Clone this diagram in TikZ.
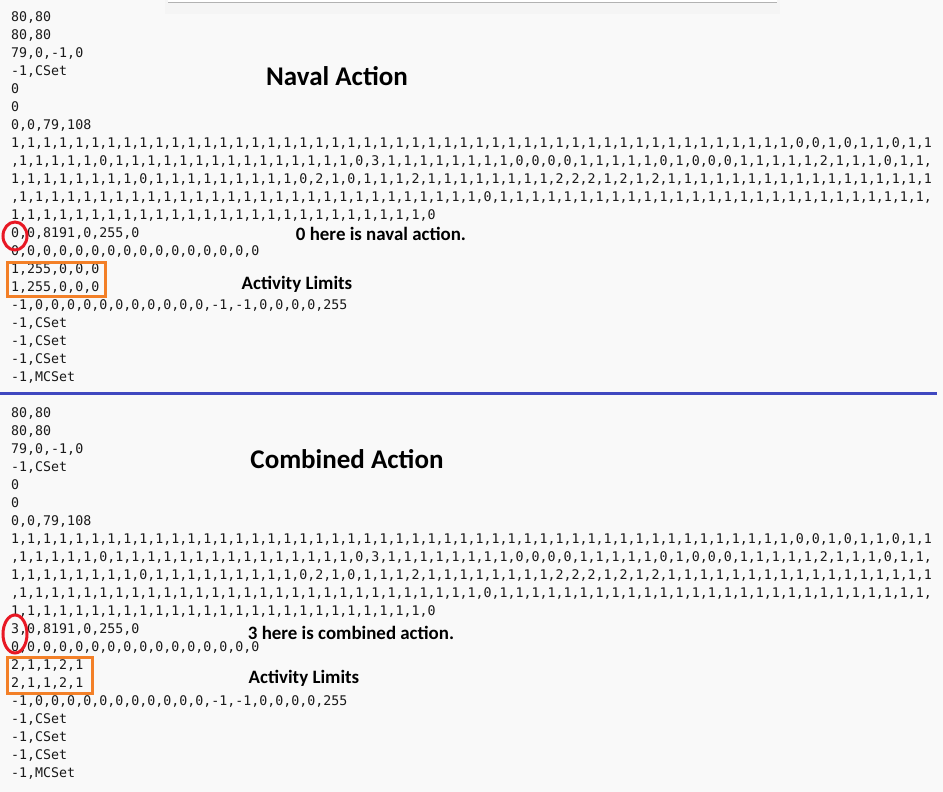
\documentclass[tikz,border=0pt]{standalone}
\usepackage{fontspec}
\newfontfamily\codefont{DejaVu Sans Mono}
\newfontfamily\labfont{Carlito}
\definecolor{bg}{RGB}{249,249,249}
\definecolor{sepblue}{RGB}{64,72,192}
\definecolor{mark}{RGB}{232,24,36}
\definecolor{boxor}{RGB}{243,128,40}
\begin{document}
\begin{tikzpicture}[x=1pt,y=-1pt,
  code/.style={anchor=west,inner sep=0pt,font=\codefont\fontsize{13.3}{14}\selectfont,text=black!90},
  title/.style={inner sep=0pt,font=\labfont\bfseries\fontsize{27}{28}\selectfont},
  note/.style={inner sep=0pt,font=\labfont\bfseries\fontsize{18.9}{20}\selectfont},
  ring/.style={draw=mark,line width=3pt},
  limbox/.style={draw=boxor,line width=3pt}]
\fill[bg] (0,0) rectangle (943,792);
\useasboundingbox (0,0) rectangle (943,792);
\fill[black!4] (165,0) rectangle (780,14);
\fill[white] (168,0) rectangle (777,2);
\draw[black!30] (168,2) -- (777,2);
\def\Lone{1,1,1,1,1,1,1,1,1,1,1,1,1,1,1,1,1,1,1,1,1,1,1,1,1,1,1,1,1,1,1,1,1,1,1,1,1,1,1,1,1,1,1,1,1,1,1,1,1,0,0,1,0,1,1,0,1,1}
\def\Ltwo{,1,1,1,1,1,0,1,1,1,1,1,1,1,1,1,1,1,1,1,1,1,0,3,1,1,1,1,1,1,1,1,0,0,0,0,1,1,1,1,1,0,1,0,0,0,1,1,1,1,1,2,1,1,1,0,1,1,}
\def\Lthree{1,1,1,1,1,1,1,1,0,1,1,1,1,1,1,1,1,1,0,2,1,0,1,1,1,2,1,1,1,1,1,1,1,1,2,2,2,1,2,1,2,1,1,1,1,1,1,1,1,1,1,1,1,1,1,1,1,1}
\def\Lfour{,1,1,1,1,1,1,1,1,1,1,1,1,1,1,1,1,1,1,1,1,1,1,1,1,1,1,1,1,1,0,1,1,1,1,1,1,1,1,1,1,1,1,1,1,1,1,1,1,1,1,1,1,1,1,1,1,1,}
\def\Lfive{1,1,1,1,1,1,1,1,1,1,1,1,1,1,1,1,1,1,1,1,1,1,1,1,1,1,0}
\def\Zrow{0,0,0,0,0,0,0,0,0,0,0,0,0,0,0,0}
\def\Mrow{-1,0,0,0,0,0,0,0,0,0,0,0,-1,-1,0,0,0,0,255}
% block 1
\foreach \i/\t [count=\k from 0] in {a1/{80,80},a2/{80,80},a3/{79,0,-1,0},a4/{-1,CSet},a5/{0},a6/{0},a7/{0,0,79,108},a8/{\Lone},a9/{\Ltwo},a10/{\Lthree},a11/{\Lfour},a12/{\Lfive},a13/{0,0,8191,0,255,0},a14/{\Zrow},a15/{1,255,0,0,0},a16/{1,255,0,0,0},a17/{\Mrow},a18/{-1,CSet},a19/{-1,CSet},a20/{-1,CSet},a21/{-1,MCSet}}
  \node[code] (\i) at (11,{17+18*\k}) {\t};
% block 2
\foreach \i/\t [count=\k from 0] in {b1/{80,80},b2/{80,80},b3/{79,0,-1,0},b4/{-1,CSet},b5/{0},b6/{0},b7/{0,0,79,108},b8/{\Lone},b9/{\Ltwo},b10/{\Lthree},b11/{\Lfour},b12/{\Lfive},b13/{3,0,8191,0,255,0},b14/{\Zrow},b15/{2,1,1,2,1},b16/{2,1,1,2,1},b17/{\Mrow},b18/{-1,CSet},b19/{-1,CSet},b20/{-1,CSet},b21/{-1,MCSet}}
  \node[code] (\i) at (11,{413+18*\k}) {\t};
\draw[sepblue,line width=3pt] (0,393) -- (937,393);
\node[title] (t1) at (337,76) {Naval Action};
\node[title] (t2) at (347,459) {Combined Action};
\node[note] (n1) at (381,234) {0 here is naval action.};
\node[note] (n2) at (297,284) {Activity Limits};
\node[note] (n3) at (351,633) {3 here is combined action.};
\node[note] (n4) at (304,678) {Activity Limits};
\draw[ring] (15,236) ellipse (12 and 14);
\draw[ring] (15,634) ellipse (12 and 19);
\draw[limbox] (7,262) rectangle (105,296);
\draw[limbox] (7,657) rectangle (92,693);
\end{tikzpicture}
\end{document}
